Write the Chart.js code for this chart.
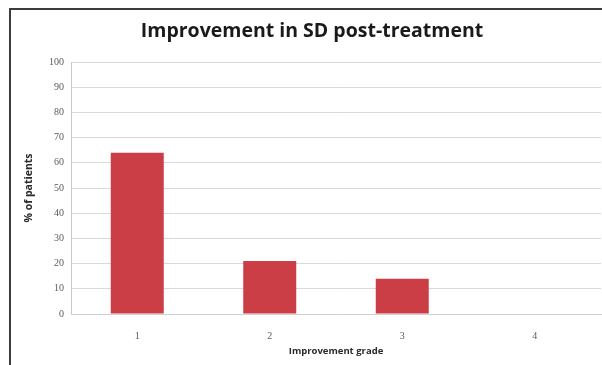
<!DOCTYPE html>
<html>
<head>
<meta charset="utf-8">
<script src="https://cdn.jsdelivr.net/npm/chart.js@4"></script>
<style>
  html, body { margin: 0; padding: 0; background: #ffffff; overflow: hidden; }
  #wrap { position: relative; width: 602px; height: 365px; }
  #frame { position: absolute; left: 9px; top: 8px; width: 640px; height: 420px;
           border: 2px solid #3c3c3c; box-sizing: border-box; pointer-events: none; }
  canvas { position: absolute; left: 0; top: 0; }
</style>
</head>
<body>
<div id="wrap">
  <canvas id="c" width="602" height="365"></canvas>
  <div id="frame"></div>
</div>
<script>
// Share of patients per improvement grade after treatment
const grades = ['1', '2', '3', '4'];
const percentPatients = [64, 21, 14, 0];
const yTicks = [0, 10, 20, 30, 40, 50, 60, 70, 80, 90, 100];

const chartTitle = 'Improvement in SD post-treatment';
const xTitle = 'Improvement grade';
const yTitle = '% of patients';

new Chart(document.getElementById('c'), {
  type: 'bar',
  data: {
    labels: grades,
    datasets: [{
      data: percentPatients,
      backgroundColor: '#cc3e46',
      borderWidth: 0,
      categoryPercentage: 1,
      barPercentage: 0.4
    }]
  },
  options: {
    responsive: false,
    animation: false,
    layout: { padding: { left: 23, right: 1, top: 0, bottom: 4 } },
    plugins: {
      legend: { display: false },
      tooltip: { enabled: false },
      title: {
        display: true,
        text: chartTitle,
        color: '#1a1a1a',
        font: { family: 'Open Sans', size: 19.5, weight: 'bold' },
        padding: { top: 20, bottom: 18.6 }
      }
    },
    scales: {
      y: {
        min: 0, max: 100,
        afterBuildTicks: s => { s.ticks = yTicks.map(v => ({ value: v })); },
        afterFit: s => { s.width = 48; },
        grid: { color: '#d9d9d9', lineWidth: 1, drawTicks: false },
        border: { color: '#c8c8c8' },
        ticks: {
          color: '#5a5a5a', padding: 7,
          font: { family: 'Liberation Serif', size: 10 }
        },
        title: {
          display: true, text: yTitle, color: '#2a2a2a', padding: { top: 0, bottom: 4 },
          font: { family: 'Open Sans', size: 10.5, weight: 'bold' }
        }
      },
      x: {
        afterFit: s => { s.height = 47; },
        grid: { display: false },
        border: { color: '#d0d0d0' },
        ticks: {
          color: '#5a5a5a', padding: 8,
          font: { family: 'Liberation Serif', size: 10 }
        },
        title: {
          display: true, text: xTitle, color: '#2a2a2a', padding: { top: 5 },
          font: { family: 'Open Sans', size: 9.5, weight: 'bold' }
        }
      }
    }
  }
});
</script>
</body>
</html>
